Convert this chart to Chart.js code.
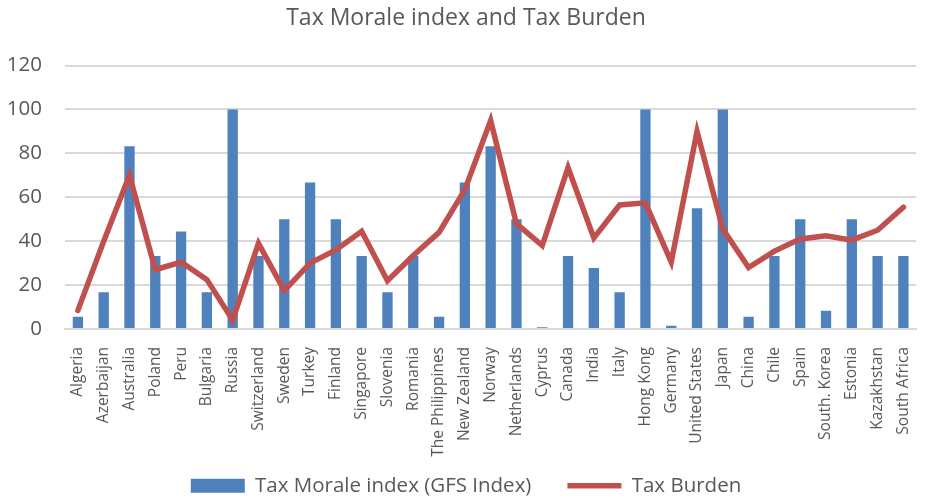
<!DOCTYPE html>
<html>
<head>
<meta charset="utf-8">
<script src="https://cdn.jsdelivr.net/npm/chart.js@4.4.0/dist/chart.umd.min.js"></script>
<style>
  html, body { margin: 0; padding: 0; background: #fff; }
  #wrap { width: 932px; height: 498px; }
</style>
</head>
<body>
<div id="wrap"><canvas id="taxChart" width="932" height="498"></canvas></div>
<script>
const countries = ['Algeria', 'Azerbaijan', 'Australia', 'Poland', 'Peru', 'Bulgaria', 'Russia', 'Switzerland',
    'Sweden', 'Turkey', 'Finland', 'Singapore', 'Slovenia', 'Romania', 'The Philippines', 'New Zealand',
    'Norway', 'Netherlands', 'Cyprus', 'Canada', 'India', 'Italy', 'Hong Kong', 'Germany', 'United States',
    'Japan', 'China', 'Chile', 'Spain', 'South. Korea', 'Estonia', 'Kazakhstan', 'South Africa'];
const moraleIndex = [5.6, 16.7, 83.3, 33.3, 44.4, 16.7, 100, 33.3,
    50, 66.7, 50, 33.3, 16.7, 33.3, 5.6, 66.7,
    83.3, 50, 0.8, 33.3, 27.8, 16.7, 100, 1.5, 55,
    100, 5.6, 33.3, 50, 8.3, 50, 33.3, 33.3];
const taxBurden = [8.5, 40, 70, 27, 30.5, 22.5, 4, 39,
    17.5, 30, 36, 44.5, 22, 33.5, 44, 63.5,
    95, 48, 38, 73.5, 41.5, 56.5, 57.5, 30.5, 90,
    45.5, 28, 35.5, 41, 42.5, 40.5, 45, 55.5];
const yTicks = [0, 20, 40, 60, 80, 100, 120];

// the legend box overlaps the long rotated labels, so let the x labels draw past the axis box
const labelRoom = {
    id: 'labelRoom',
    afterLayout(chart) {
        chart.scales.x.bottom = chart.height;
    }
};

document.addEventListener('DOMContentLoaded', function () {
    const ctx = document.getElementById('taxChart').getContext('2d');
    const taxChart = new Chart(ctx, {
        data: {
            labels: countries,
            datasets: [{
                type: 'line',
                label: 'Tax Burden',
                data: taxBurden,
                borderColor: '#C0504D',
                backgroundColor: '#C0504D',
                borderWidth: 5.5,
                borderCapStyle: 'round',
                pointRadius: 0,
                pointStyle: 'line',
                tension: 0,
                order: 0
            }, {
                type: 'bar',
                label: 'Tax Morale index (GFS Index)',
                data: moraleIndex,
                backgroundColor: '#4F81BD',
                borderWidth: 0,
                pointStyle: 'rect',
                barPercentage: 0.4,
                categoryPercentage: 1,
                order: 1
            }]
        },
        plugins: [labelRoom],
        options: {
            responsive: false,
            animation: false,
            layout: { padding: { left: 0, right: 0, top: 0, bottom: -8 } },
            plugins: {
                title: {
                    display: true,
                    text: 'Tax Morale index and Tax Burden',
                    color: '#595959',
                    font: { family: 'Open Sans', size: 23, weight: 'normal' },
                    padding: { top: 5, bottom: 33 }
                },
                legend: {
                    position: 'bottom',
                    reverse: true,
                    labels: {
                        usePointStyle: true,
                        pointStyleWidth: 54,
                        boxHeight: 14,
                        padding: 36,
                        color: '#595959',
                        font: { family: 'Open Sans', size: 20.5 }
                    }
                },
                tooltip: { enabled: false }
            },
            scales: {
                x: {
                    afterFit: function (axis) { axis.height = 110.5; },
                    grid: { display: false },
                    border: { color: '#D9D9D9', width: 2 },
                    ticks: {
                        autoSkip: false,
                        maxRotation: 90,
                        minRotation: 90,
                        padding: 10,
                        color: '#595959',
                        font: { family: 'Open Sans', size: 15.5 }
                    }
                },
                y: {
                    min: 0,
                    max: 120,
                    afterFit: function (axis) { axis.width = 65; },
                    afterBuildTicks: function (axis) {
                        axis.ticks = yTicks.map(v => ({ value: v }));
                    },
                    grid: { color: '#D9D9D9', lineWidth: 2, drawTicks: false },
                    border: { display: false },
                    ticks: {
                        padding: 23,
                        color: '#595959',
                        font: { family: 'Open Sans', size: 20.5 }
                    }
                }
            }
        }
    });
});
</script>
</body>
</html>
